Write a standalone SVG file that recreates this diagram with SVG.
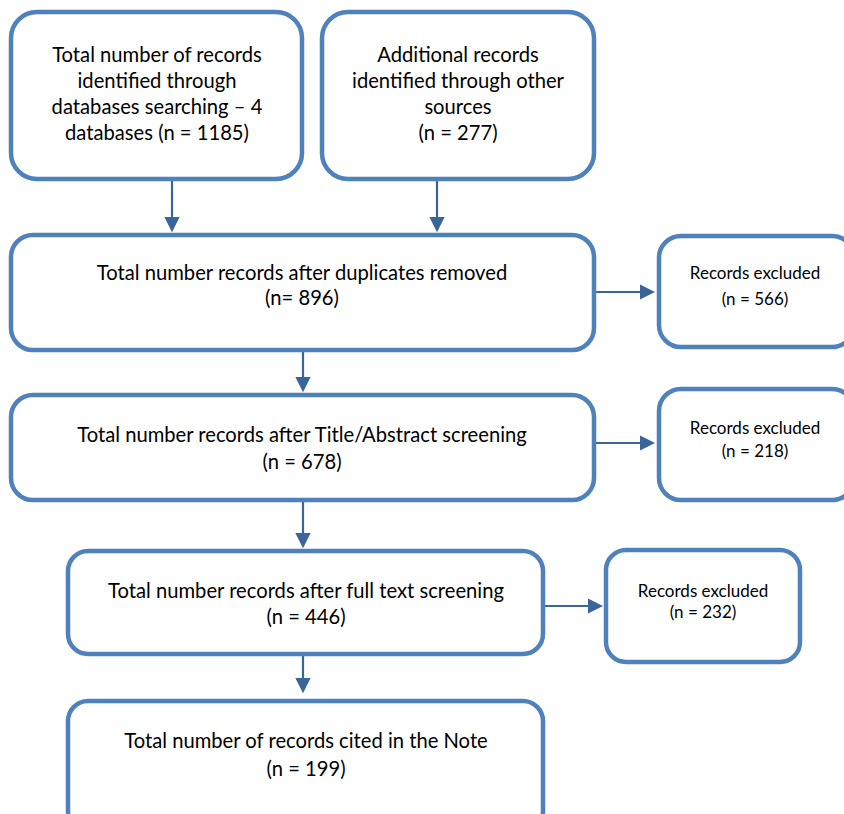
<svg xmlns="http://www.w3.org/2000/svg" width="844" height="814" viewBox="0 0 844 814">
<style>
.box{fill:#fff;stroke:#4f81bd;stroke-width:4.5}
.t{font-family:Lato,"Open Sans","Liberation Sans",sans-serif;font-size:20.2px;fill:#000;text-anchor:middle}
.s{font-size:17px}
.c{stroke:#3a6598;stroke-width:2.2;fill:none}
</style>
<defs>
<marker id="ah" markerWidth="7" markerHeight="7" refX="6" refY="3.5" orient="auto" markerUnits="strokeWidth">
<path d="M0,0 L7,3.5 L0,7 Z" fill="#3a6598"/>
</marker>
</defs>
<rect width="844" height="814" fill="#fff"/>
<g id="connectors">
<line class="c" x1="172" y1="180" x2="172" y2="230" marker-end="url(#ah)"/>
<line class="c" x1="437" y1="180" x2="437" y2="230" marker-end="url(#ah)"/>
<line class="c" x1="595" y1="292" x2="653" y2="292" marker-end="url(#ah)"/>
<line class="c" x1="303" y1="351" x2="303" y2="390" marker-end="url(#ah)"/>
<line class="c" x1="595" y1="443" x2="653" y2="443" marker-end="url(#ah)"/>
<line class="c" x1="303" y1="502" x2="303" y2="546" marker-end="url(#ah)"/>
<line class="c" x1="544" y1="606" x2="601" y2="606" marker-end="url(#ah)"/>
<line class="c" x1="303" y1="655" x2="303" y2="691" marker-end="url(#ah)"/>
</g>
<g id="n1">
<rect class="box" x="11" y="12" width="291" height="167" rx="26"/>
<text class="t" x="157" y="62">Total number of records</text>
<text class="t" x="157" y="88">identified through</text>
<text class="t" x="157" y="114">databases searching – 4</text>
<text class="t" x="157" y="140">databases (n = 1185)</text>
</g>
<g id="n2">
<rect class="box" x="322" y="12" width="272" height="167" rx="26"/>
<text class="t" x="458" y="62">Additional records</text>
<text class="t" x="458" y="88">identified through other</text>
<text class="t" x="458" y="114">sources</text>
<text class="t" x="458" y="140">(n = 277)</text>
</g>
<g id="n3">
<rect class="box" x="11" y="235" width="583" height="115" rx="22"/>
<text class="t" x="302" y="280">Total number records after duplicates removed</text>
<text class="t" x="302" y="305">(n= 896)</text>
</g>
<g id="n4">
<rect class="box" x="659" y="236" width="195" height="111" rx="22"/>
<text class="t s" x="755" y="279">Records excluded</text>
<text class="t s" x="755" y="305">(n = 566)</text>
</g>
<g id="n5">
<rect class="box" x="11" y="395" width="583" height="105" rx="22"/>
<text class="t" x="302" y="442">Total number records after Title/Abstract screening</text>
<text class="t" x="302" y="469">(n = 678)</text>
</g>
<g id="n6">
<rect class="box" x="659" y="389" width="195" height="111" rx="22"/>
<text class="t s" x="755" y="434">Records excluded</text>
<text class="t s" x="755" y="457">(n = 218)</text>
</g>
<g id="n7">
<rect class="box" x="68" y="551" width="475" height="103" rx="20"/>
<text class="t" x="306" y="598">Total number records after full text screening</text>
<text class="t" x="306" y="624">(n = 446)</text>
</g>
<g id="n8">
<rect class="box" x="606" y="550" width="194" height="112" rx="20"/>
<text class="t s" x="703" y="597">Records excluded</text>
<text class="t s" x="703" y="618">(n = 232)</text>
</g>
<g id="n9">
<rect class="box" x="68" y="701" width="475" height="130" rx="20"/>
<text class="t" x="306" y="748">Total number of records cited in the Note</text>
<text class="t" x="306" y="776">(n = 199)</text>
</g>
</svg>
